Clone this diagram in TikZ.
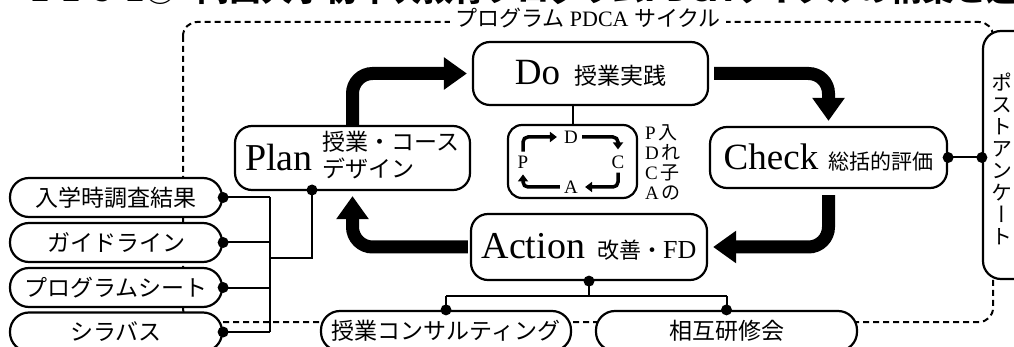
\documentclass[tikz,border=0pt]{standalone}
\usepackage{fontspec}
\setmainfont{Liberation Serif}
\newfontfamily\jp{Noto Sans CJK JP}
\newfontfamily\jpv[RawFeature=+vert]{Noto Sans CJK JP}
\usetikzlibrary{arrows.meta,calc}
\newcommand\myfs[1]{\fontsize{#1}{#1}\selectfont}
\newcommand\J[1]{{\jp #1}}
\begin{document}
\begin{tikzpicture}[x=1pt,y=-1pt,
  box/.style={draw,line width=2.2pt,rounded corners=17pt,fill=white,inner sep=0pt},
  capsule/.style={draw,line width=2.2pt,rounded corners=19pt,fill=white,minimum width=212pt,minimum height=39pt,inner sep=0pt,font=\jp\myfs{23}},
  conn/.style={line width=2pt},
  big/.style={line width=13pt,rounded corners=20pt,-{Triangle[width=31pt,length=23pt]}},
  ia/.style={line width=3.5pt,rounded corners=5pt,-{Triangle[width=10pt,length=7pt]}},
  lt/.style={font=\myfs{19},inner sep=2pt}
]
\useasboundingbox (0,0) rectangle (1014,347);
\clip (0,0) rectangle (1014,347);

% top caption (cut by the picture edge)
\node[anchor=base west,font=\jp\bfseries\myfs{32},inner sep=0pt] (t1) at (30,2) {1-1-5-1①};
\node[anchor=base west,font=\jp\bfseries\myfs{32},inner sep=0pt] (t2) at (197,2) {岡山大学初年次教育プログラムPDCAサイクルの構築と運};

% dashed program frame
\draw[line width=2pt,dash pattern=on 6pt off 4pt,rounded corners=14pt] (183,22) rectangle (993,322);
\node[fill=white,inner xsep=5pt,inner ysep=1pt,font=\myfs{22}] (ptitle) at (588,18) {\J{プログラム} PDCA \J{サイクル}};

% main boxes
\node[box,minimum width=235pt,minimum height=63pt] (do) at (590.5,73.5)
  {\myfs{37}Do\hspace{14pt}\J{\myfs{23}授業実践}};
\node[box,minimum width=235pt,minimum height=64pt] (plan) at (352.5,158)
  {\myfs{38}Plan\hspace{10pt}\raisebox{6pt}{\jp\myfs{23}\begin{tabular}{@{}l@{}}授業・コース\\デザイン\end{tabular}}};
\node[box,minimum width=237pt,minimum height=61pt] (check) at (828.5,157.5)
  {\myfs{37}Check\hspace{10pt}\J{\myfs{21}総括的評価}};
\node[box,minimum width=236pt,minimum height=66pt] (act) at (589,247)
  {\myfs{38}Action\hspace{12pt}\J{\myfs{22}改善・}{\myfs{26}FD}};

% post questionnaire
\node[box,minimum width=57pt,minimum height=248pt,rounded corners=18pt] (post) at (1011.5,155) {};
\node[align=center,font=\jpv\fontsize{21}{22}\selectfont,inner sep=0pt] (posttext) at (1002,158.5)
  {ポ\\ス\\ト\\ア\\ン\\ケ\\ー\\ト};

% nested PDCA
\node[box,minimum width=129pt,minimum height=73pt,rounded corners=14pt] (inner) at (572.5,161.5) {};
\node[lt] (D) at (571,137) {D};
\node[lt] (P) at (523,162) {P};
\node[lt] (C) at (618,162) {C};
\node[lt] (A) at (571,187) {A};
\draw[ia,shorten <=2pt,shorten >=5pt] (P.north) |- (D.west);
\draw[ia,shorten <=2pt,shorten >=4pt] (D.east) -| (C.north);
\draw[ia,shorten <=2pt,shorten >=5pt] (C.south) |- (A.east);
\draw[ia,shorten <=2pt,shorten >=4pt] (A.west) -| (P.south);
\node[align=left,font=\fontsize{19}{20}\selectfont,inner sep=0pt] (nest) at (663,162)
  {P\,\J{入}\\D\,\J{れ}\\C\,\J{子}\\A\,\J{の}};
\draw[conn] (inner.north) -- (inner.north |- do.south);

% left capsules
\node[capsule] (b1) at (116,197.5) {入学時調査結果};
\node[capsule] (b2) at (116,242.5) {ガイドライン};
\node[capsule] (b3) at (116,287.5) {プログラムシート};
\node[capsule] (b4) at (116,332) {シラバス};

% bottom capsules
\node[capsule,minimum width=250pt,minimum height=40pt] (cons) at (446,331) {授業コンサルティング};
\node[capsule,minimum width=261pt,minimum height=40pt] (mut) at (726.5,331) {相互研修会};

% left connectors
\coordinate (bx) at (270,258);
\coordinate (pd) at (312,190);
\draw[conn] (b1.east) -- (b1.east -| bx);
\draw[conn] (b2.east) -- (b2.east -| bx);
\draw[conn] (b3.east) -- (b3.east -| bx);
\draw[conn] (b4.east) -- (b4.east -| bx);
\draw[conn] (b1.east -| bx) -- (b4.east -| bx);
\draw[conn] (bx) -| (pd);
\foreach \n in {b1,b2,b3,b4} \fill (\n.east) circle (5.5pt);
\fill (pd) circle (5.5pt);

% action connectors
\coordinate (aj) at (589,296);
\draw[conn] (act.south) -- (aj);
\draw[conn] (aj -| cons.north) -- (aj -| mut.north);
\draw[conn] (aj -| cons.north) -- (cons.north);
\draw[conn] (aj -| mut.north) -- (mut.north);
\fill (act.south) circle (5.5pt);
\fill (cons.north) circle (5.5pt);
\fill (mut.north) circle (5.5pt);

% check -- post
\draw[conn] (check.east) -- (check.east -| post.west);
\fill (check.east) circle (5.5pt);
\fill (check.east -| post.west) circle (5.5pt);

% big PDCA arrows
\draw[big,shorten >=5pt] (plan.north) |- (do.west);
\draw[big,shorten <=5pt,shorten >=5pt] (do.east) -| (check.north);
\draw[big,shorten <=6pt,shorten >=5pt] (check.south) |- (act.east);
\draw[big,shorten <=2pt,shorten >=5pt] (act.west) -| (plan.south);
\end{tikzpicture}
\end{document}
